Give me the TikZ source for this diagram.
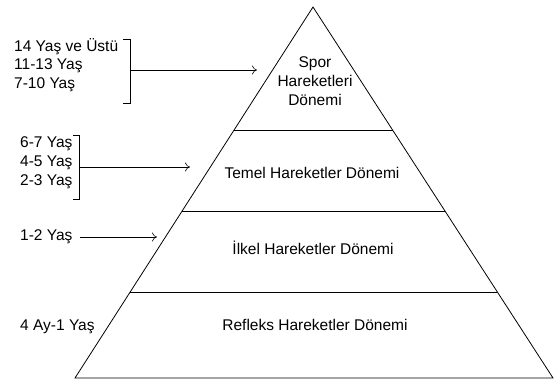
\documentclass[tikz,border=0pt]{standalone}
\usepackage{fontspec}
\setmainfont{Liberation Sans}
\usetikzlibrary{arrows.meta,positioning,calc}

\begin{document}
\begin{tikzpicture}[x=1pt,y=-1pt,
    every node/.style={font=\fontsize{15.5}{19}\selectfont, inner sep=0pt},
    age/.style={anchor=west},
    level/.style={align=center},
    brace/.style={semithick},
    pointer/.style={semithick,-{To[length=5pt,width=9pt]}}]
    \useasboundingbox (0,0) rectangle (554,383);

    % Pyramid
    \coordinate (top) at (313,7);
    \coordinate (bl) at (75,378);
    \coordinate (br) at (553,378);
    \draw[thick] (bl) -- (top) -- (br) -- cycle;
    \foreach \f in {0.232,0.450,0.668} {
        \draw ($(bl)!\f!(top)$) -- ($(br)!\f!(top)$);
    }

    % Periods
    \node[level] (spor) at (315,81) {Spor\\Hareketleri\\Dönemi};
    \node (temel) at (312,173) {Temel Hareketler Dönemi};
    \node (ilkel) at (313,248) {İlkel Hareketler Dönemi};
    \node (refleks) at (315,325) {Refleks Hareketler Dönemi};

    % Ages, top group
    \node[age] (a14) at (14,47) {14 Yaş ve Üstü};
    \node[age] (a11) at (14,66) {11-13 Yaş};
    \node[age] (a7) at (14,85) {7-10 Yaş};
    \draw[brace] (123,39) -- (130,39) -- (130,103) -- (123,103);
    \coordinate (b1) at (130,70);
    \coordinate (t1) at (257,70);
    \draw[pointer] (b1) -- (t1);

    % Ages, middle group
    \node[age] (a6) at (20,144) {6-7 Yaş};
    \node[age] (a4) at (20,163) {4-5 Yaş};
    \node[age] (a2) at (20,182) {2-3 Yaş};
    \draw[brace] (73,135) -- (79,135) -- (79,199) -- (73,199);
    \coordinate (b2) at (79,167);
    \coordinate (t2) at (190,167);
    \draw[pointer] (b2) -- (t2);

    % Single ages
    \node[age] (a1) at (20,237) {1-2 Yaş};
    \coordinate (t3) at (157,237);
    \draw[pointer] ([xshift=7pt]a1.east) -- (t3);
    \node[age] (a0) at (20,327) {4 Ay-1 Yaş};
\end{tikzpicture}
\end{document}
